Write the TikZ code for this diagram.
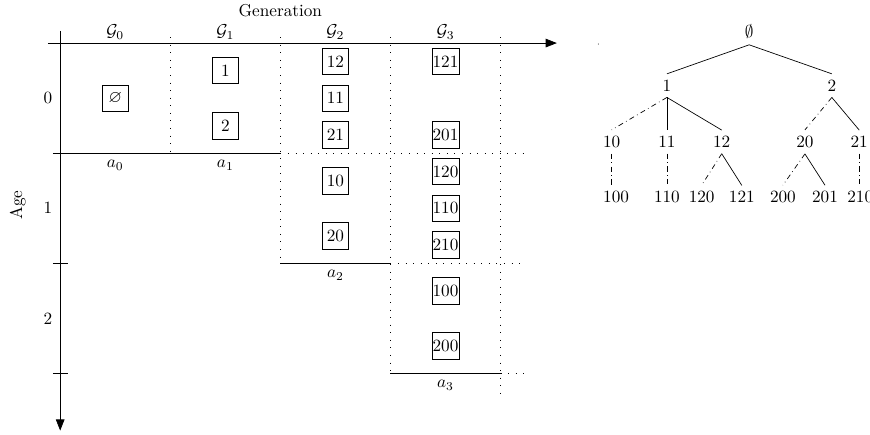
\documentclass[tikz,border=0pt]{standalone}
\usepackage{amsmath, amssymb}
\usepackage{tikz}
\usetikzlibrary{arrows.meta}

\begin{document}
\begin{tikzpicture}[
    member/.style={draw, minimum size=0.54cm, inner sep=0.3pt},
    sep/.style={loosely dotted},
    cohort/.style={semithick},
    axis/.style={-{Triangle[length=6.5pt, width=5pt]}},
    lineage/.style={dashdotted}]

    \clip (-1.23,0.88) rectangle (16.55,-8.01);

    % Axes
    \draw[axis] (-0.25,0) -- (10.15,0);
    \draw[axis] (0,0.25) -- (0,-7.92);
    \node (gen) at (4.5,0.66) {Generation};
    \node[rotate=90] (age) at (-0.87,-3.31) {Age};

    % Generation labels
    \node (G0) at (1.125,0.22) {$\mathcal{G}_0$};
    \node (G1) at (3.375,0.22) {$\mathcal{G}_1$};
    \node (G2) at (5.625,0.22) {$\mathcal{G}_2$};
    \node (G3) at (7.875,0.22) {$\mathcal{G}_3$};

    % Age labels
    \node (A0) at (-0.25,-1.125) {0};
    \node (A1) at (-0.25,-3.375) {1};
    \node (A2) at (-0.25,-5.625) {2};

    % Column separators
    \draw[sep] (2.25,0.12) -- (2.25,-2.25);
    \draw[sep] (4.5,0.12) -- (4.5,-4.5);
    \draw[sep] (6.75,0.12) -- (6.75,-6.75);
    \draw[sep] (9,0.12) -- (9,-7.2);

    % Age classes
    \draw[cohort] (-0.15,-2.25) -- (4.5,-2.25);
    \draw[sep] (4.5,-2.25) -- (9.47,-2.25);
    \draw (-0.15,-4.5) -- (0.15,-4.5);
    \draw[cohort] (4.5,-4.5) -- (6.75,-4.5);
    \draw[sep] (6.75,-4.5) -- (9.47,-4.5);
    \draw (-0.15,-6.75) -- (0.15,-6.75);
    \draw[cohort] (6.75,-6.75) -- (9,-6.75);
    \draw[sep] (9,-6.75) -- (9.47,-6.75);

    \node (a0) at (1.125,-2.5) {$a_0$};
    \node (a1) at (3.375,-2.5) {$a_1$};
    \node (a2) at (5.625,-4.75) {$a_2$};
    \node (a3) at (7.875,-7.0) {$a_3$};

    % Individuals
    \node[member] (b0) at (1.125,-1.125) {$\varnothing$};
    \node[member] (b1) at (3.375,-0.5625) {1};
    \node[member] (b2) at (3.375,-1.6875) {2};
    \node[member] (b12) at (5.625,-0.375) {12};
    \node[member] (b11) at (5.625,-1.125) {11};
    \node[member] (b21) at (5.625,-1.875) {21};
    \node[member] (b10) at (5.625,-2.8125) {10};
    \node[member] (b20) at (5.625,-3.9375) {20};
    \node[member] (b121) at (7.875,-0.375) {121};
    \node[member] (b201) at (7.875,-1.875) {201};
    \node[member] (b120) at (7.875,-2.625) {120};
    \node[member] (b110) at (7.875,-3.375) {110};
    \node[member] (b210) at (7.875,-4.125) {210};
    \node[member] (b100) at (7.875,-5.0625) {100};
    \node[member] (b200) at (7.875,-6.1875) {200};

    % Genealogical tree
    \fill (11.0,-0.02) circle (0.3pt);
    \node (root) at (14.08,0.23) {$\emptyset$};
    \node (n1) at (12.40,-0.87) {1};
    \node (n2) at (15.77,-0.87) {2};
    \node (n10) at (11.27,-2.02) {10};
    \node (n11) at (12.40,-2.02) {11};
    \node (n12) at (13.52,-2.02) {12};
    \node (n20) at (15.22,-2.02) {20};
    \node (n21) at (16.33,-2.02) {21};
    \node (n100) at (11.36,-3.15) {100};
    \node (n110) at (12.40,-3.15) {110};
    \node (n120) at (13.11,-3.15) {120};
    \node (n121) at (13.93,-3.15) {121};
    \node (n200) at (14.77,-3.15) {200};
    \node (n201) at (15.63,-3.15) {201};
    \node (n210) at (16.35,-3.15) {210};

    \draw (root.south) -- (n1.north);
    \draw (root.south) -- (n2.north);
    \draw[lineage] (n1.south) -- (n10.north);
    \draw (n1.south) -- (n11.north);
    \draw (n1.south) -- (n12.north);
    \draw[lineage] (n2.south) -- (n20.north);
    \draw (n2.south) -- (n21.north);
    \draw[lineage] (n10.south) -- (n10.south |- n100.north);
    \draw[lineage] (n11.south) -- (n11.south |- n110.north);
    \draw[lineage] (n12.south) -- (n120.north);
    \draw (n12.south) -- (n121.north);
    \draw[lineage] (n20.south) -- (n200.north);
    \draw (n20.south) -- (n201.north);
    \draw[lineage] (n21.south) -- (n21.south |- n210.north);
\end{tikzpicture}
\end{document}
